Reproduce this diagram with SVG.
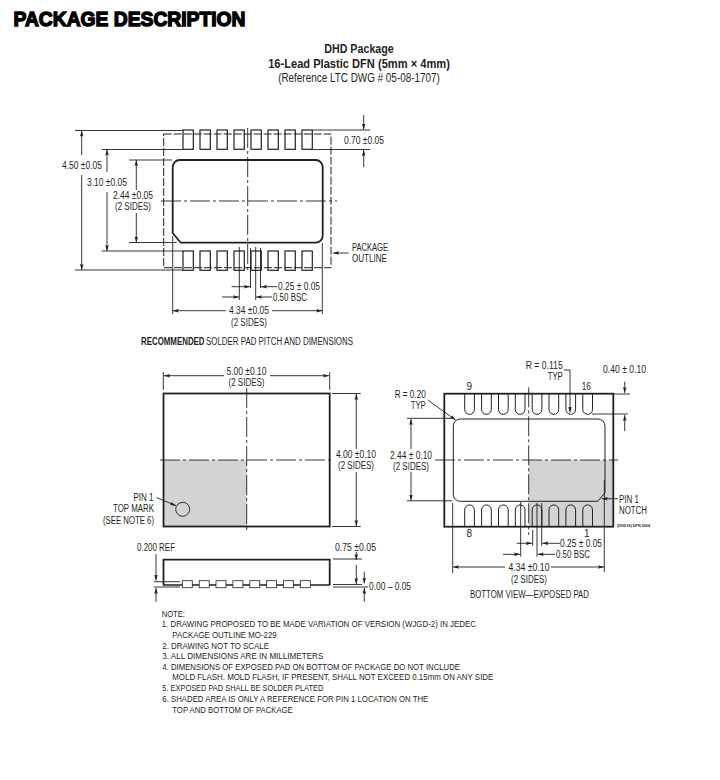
<svg xmlns="http://www.w3.org/2000/svg" xmlns:xlink="http://www.w3.org/1999/xlink" width="720" height="780" viewBox="0 0 720 780">
<style>
text{font-family:"Liberation Sans",Arial,sans-serif;fill:#231f20;font-size:10px}
.m{text-anchor:middle}.e{text-anchor:end}
.title{font-weight:700;font-size:21px;stroke:#000;stroke-width:1.4px;fill:#000}
.h{font-size:12.5px;font-weight:700}.h2{font-size:12.5px}
.n{font-size:9.4px}.t{font-size:3.8px;font-weight:700}
.b{font-weight:700}
.d{fill:none;stroke:#231f20;stroke-width:.9}
.a{fill:none;stroke:#231f20;stroke-width:.9;marker-end:url(#ah)}
.c{fill:none;stroke:#231f20;stroke-width:.9;stroke-dasharray:20 3 3 3}
.o{fill:none;stroke:#231f20;stroke-width:1;stroke-dasharray:8 2}
.p{fill:none;stroke:#231f20;stroke-width:1.2}
.u{fill:none;stroke:#231f20;stroke-width:1}
.k{fill:none;stroke:#231f20;stroke-width:1.8}
.s{fill:#d1d3d4}
</style>
<defs>
<marker id="ah" markerUnits="userSpaceOnUse" markerWidth="7" markerHeight="4" refX="6" refY="2" orient="auto"><path d="M0 .2L6 2L0 3.8L1 2Z" fill="#231f20"/></marker>
<rect id="lp" width="10.3" height="19.3" class="p"/>
<rect id="sp" width="10" height="7" fill="#fff" stroke="#231f20" stroke-width=".8"/>
<path id="ut" d="M0 0V15.8A4.85 4.85 0 0 0 9.7 15.8V0" class="u"/>
<path id="ub" d="M0 0V-16.9A4.85 4.85 0 0 1 9.7 -16.9V0" class="u"/>
</defs>
<rect width="720" height="780" fill="#fff"/>
<g id="header">
<text class="title" x="13.5" y="26.3" textLength="232" lengthAdjust="spacingAndGlyphs">PACKAGE DESCRIPTION</text>
<text class="h m" x="359" y="53" textLength="69.5" lengthAdjust="spacingAndGlyphs">DHD Package</text>
<text class="h m" x="359" y="67.6" textLength="181.7" lengthAdjust="spacingAndGlyphs">16-Lead Plastic DFN (5mm × 4mm)</text>
<text class="h2 m" x="359" y="82" textLength="161.7" lengthAdjust="spacingAndGlyphs">(Reference LTC DWG # 05-08-1707)</text>
</g>
<g id="solder-pad-view">
<rect class="o" x="163.7" y="134" width="167.3" height="133.7"/>
<path class="k" d="M179.7 160H315.7A7 7 0 0 1 322.7 167V235.7A7 7 0 0 1 315.7 242.7H180.7L172.7 233V167A7 7 0 0 1 179.7 160Z"/>
<g fill="none">
<use xlink:href="#lp" x="183" y="130"/><use xlink:href="#lp" x="200" y="130"/><use xlink:href="#lp" x="217" y="130"/><use xlink:href="#lp" x="234" y="130"/><use xlink:href="#lp" x="251" y="130"/><use xlink:href="#lp" x="268" y="130"/><use xlink:href="#lp" x="285" y="130"/><use xlink:href="#lp" x="302" y="130"/>
<use xlink:href="#lp" x="183" y="251"/><use xlink:href="#lp" x="200" y="251"/><use xlink:href="#lp" x="217" y="251"/><use xlink:href="#lp" x="234" y="251"/><use xlink:href="#lp" x="251" y="251"/><use xlink:href="#lp" x="268" y="251"/><use xlink:href="#lp" x="285" y="251"/><use xlink:href="#lp" x="302" y="251"/>
</g>
<path class="c" d="M161 201H337M247.7 128V272"/>
</g>
<g id="solder-pad-connectors">
<path class="d" d="M75 130.5H183M75 270H183M101.7 149.5H183M101.7 251H183M129 160H172M129 242.5H176.7M313 130H370M313 149.5H370M172.7 236V314M322.3 243V314M250.5 248V288M260.5 248V288M239.3 247V300M255.7 247V300"/>
<path class="a" d="M81.7 155V130.5"/><path class="a" d="M81.7 175V270"/>
<path class="a" d="M107 172V149.5"/><path class="a" d="M107 192V251"/>
<path class="a" d="M136.3 190V160"/><path class="a" d="M136.3 213V242.5"/>
<path class="a" d="M363.7 115V129.5"/><path class="a" d="M363.7 167V150"/>
<path class="a" d="M348.7 253H333"/>
<path class="a" d="M226 310.7H172.7"/><path class="a" d="M272 310.7H322.3"/>
<path class="a" d="M231.7 286.7H250"/><path class="a" d="M277 286.7H261"/>
<path class="a" d="M222 297H239"/><path class="a" d="M272 297H256"/>
</g>
<g id="solder-pad-labels">
<text x="62" y="169" textLength="40" lengthAdjust="spacingAndGlyphs">4.50 ±0.05</text>
<text x="87" y="186" textLength="40" lengthAdjust="spacingAndGlyphs">3.10 ±0.05</text>
<text class="m" x="133" y="199" textLength="40" lengthAdjust="spacingAndGlyphs">2.44 ±0.05</text>
<text class="m" x="133" y="210" textLength="36" lengthAdjust="spacingAndGlyphs">(2 SIDES)</text>
<text x="344" y="144" textLength="40" lengthAdjust="spacingAndGlyphs">0.70 ±0.05</text>
<text x="352" y="251" textLength="36" lengthAdjust="spacingAndGlyphs">PACKAGE</text>
<text x="352" y="262" textLength="35" lengthAdjust="spacingAndGlyphs">OUTLINE</text>
<text x="278" y="290" textLength="42" lengthAdjust="spacingAndGlyphs">0.25 ± 0.05</text>
<text x="273" y="301" textLength="34" lengthAdjust="spacingAndGlyphs">0.50 BSC</text>
<text class="m" x="249" y="314" textLength="40" lengthAdjust="spacingAndGlyphs">4.34 ±0.05</text>
<text class="m" x="249" y="325.5" textLength="36" lengthAdjust="spacingAndGlyphs">(2 SIDES)</text>
<text class="b" transform="translate(141 344.6) scale(.79 1)">RECOMMENDED</text>
<text x="206" y="344.6" textLength="147" lengthAdjust="spacingAndGlyphs">SOLDER PAD PITCH AND DIMENSIONS</text>
</g>
<g id="top-view">
<rect class="s" x="163.5" y="460" width="83.5" height="66.5"/>
<rect class="k" x="163.5" y="393.5" width="166.2" height="133"/>
<path class="c" d="M160 460H333M246.7 388V532"/>
<circle cx="182.7" cy="509.3" r="7" fill="none" stroke="#231f20" stroke-width=".9"/>
<path class="d" d="M163.3 372V390M329.7 372V390M332 393.5H360.7M332 526.5H360.7"/>
<path class="a" d="M224 375.7H164"/><path class="a" d="M270 375.7H329"/>
<path class="a" d="M356.3 449V394"/><path class="a" d="M356.3 472V526"/>
<path class="a" d="M156.7 497.7L176 505.7"/>
<text class="m" x="246.5" y="374.5" textLength="40" lengthAdjust="spacingAndGlyphs">5.00 ±0.10</text>
<text class="m" x="246.5" y="385.5" textLength="36" lengthAdjust="spacingAndGlyphs">(2 SIDES)</text>
<text class="m" x="356" y="458" textLength="40" lengthAdjust="spacingAndGlyphs">4.00 ±0.10</text>
<text class="m" x="356" y="469" textLength="36" lengthAdjust="spacingAndGlyphs">(2 SIDES)</text>
<text class="e" x="153.5" y="501" textLength="20" lengthAdjust="spacingAndGlyphs">PIN 1</text>
<text class="e" x="154" y="512" textLength="41" lengthAdjust="spacingAndGlyphs">TOP MARK</text>
<text class="e" x="154" y="523.5" textLength="51" lengthAdjust="spacingAndGlyphs">(SEE NOTE 6)</text>
</g>
<g id="side-view">
<path class="k" d="M163.5 585V559.7H329.7V585"/>
<path d="M163 585H330" fill="none" stroke="#231f20" stroke-width="1.6"/>
<g>
<use xlink:href="#sp" x="182.3" y="580.7"/><use xlink:href="#sp" x="199.2" y="580.7"/><use xlink:href="#sp" x="216" y="580.7"/><use xlink:href="#sp" x="232.9" y="580.7"/><use xlink:href="#sp" x="249.8" y="580.7"/><use xlink:href="#sp" x="266.6" y="580.7"/><use xlink:href="#sp" x="283.5" y="580.7"/><use xlink:href="#sp" x="300.3" y="580.7"/>
</g>
<path class="d" d="M154 581.7H180M154 587H180M333 559H362M333 584.5H362M333 587H368"/>
<path class="a" d="M156 554V580.5"/><path class="a" d="M156 601.7V588"/>
<path class="a" d="M356.3 552V560"/><path class="a" d="M356.3 565V584"/>
<path class="a" d="M364.3 571.7V583.5"/><path class="a" d="M364.3 601.7V588"/>
<text x="137" y="550.5" textLength="38" lengthAdjust="spacingAndGlyphs">0.200 REF</text>
<text x="335" y="550.5" textLength="41" lengthAdjust="spacingAndGlyphs">0.75 ±0.05</text>
<text x="369" y="590" textLength="42" lengthAdjust="spacingAndGlyphs">0.00 – 0.05</text>
</g>
<g id="bottom-view">
<rect class="s" x="528.7" y="460" width="84.6" height="66.7"/>
<rect class="k" x="444.3" y="393.7" width="169" height="133"/>
<path d="M460.3 419H598A7 7 0 0 1 605 426V492.7L597.7 501.3H460.3A7 7 0 0 1 453.3 494.3V426A7 7 0 0 1 460.3 419Z" fill="none" stroke="#231f20" stroke-width="1"/>
<path class="c" d="M435 460H618M528.7 387.3V535"/>
<g>
<use xlink:href="#ut" x="464.7" y="393.7"/><use xlink:href="#ut" x="481.6" y="393.7"/><use xlink:href="#ut" x="498.5" y="393.7"/><use xlink:href="#ut" x="515.3" y="393.7"/><use xlink:href="#ut" x="532.2" y="393.7"/><use xlink:href="#ut" x="549" y="393.7"/><use xlink:href="#ut" x="565.9" y="393.7"/><use xlink:href="#ut" x="582.8" y="393.7"/>
<use xlink:href="#ub" x="464.7" y="526.7"/><use xlink:href="#ub" x="481.6" y="526.7"/><use xlink:href="#ub" x="498.5" y="526.7"/><use xlink:href="#ub" x="515.3" y="526.7"/><use xlink:href="#ub" x="532.2" y="526.7"/><use xlink:href="#ub" x="549" y="526.7"/><use xlink:href="#ub" x="565.9" y="526.7"/><use xlink:href="#ub" x="582.8" y="526.7"/>
</g>
<path class="d" d="M613 394H630M592 414H627.7M407 418.3H452M407 500.8H452M452.7 503V573M604.3 480V572M532.7 530V545.7M541.7 503V545.7M520.7 502V556.7M537 503V556.7M564 370H570"/>
<path class="a" d="M570 370V412.5"/>
<path class="a" d="M624.7 381.7V393"/><path class="a" d="M624.7 431V415"/>
<path class="a" d="M411 449V419"/><path class="a" d="M411 472V500.5"/>
<path class="a" d="M427.7 400L455.7 420"/>
<path class="a" d="M618 498.7H601.7"/>
<path class="a" d="M505 567H453"/><path class="a" d="M551 567H604"/>
<path class="a" d="M516.7 543.3H532"/><path class="a" d="M560 543.3H542.3"/>
<path class="a" d="M503 554.3H520"/><path class="a" d="M555 554.3H537.7"/>
<text class="m" x="469.3" y="390">9</text>
<text class="m" x="586.3" y="390" textLength="9" lengthAdjust="spacingAndGlyphs">16</text>
<text class="m" x="469.3" y="537">8</text>
<text class="m" x="586.7" y="537">1</text>
<text class="e" x="425.7" y="398" textLength="31" lengthAdjust="spacingAndGlyphs">R = 0.20</text>
<text class="e" x="425.7" y="409" textLength="15" lengthAdjust="spacingAndGlyphs">TYP</text>
<text class="e" x="562.7" y="369" textLength="37" lengthAdjust="spacingAndGlyphs">R = 0.115</text>
<text class="e" x="562.7" y="380" textLength="15" lengthAdjust="spacingAndGlyphs">TYP</text>
<text x="603" y="373" textLength="43" lengthAdjust="spacingAndGlyphs">0.40 ± 0.10</text>
<text class="m" x="411" y="458.5" textLength="42" lengthAdjust="spacingAndGlyphs">2.44 ± 0.10</text>
<text class="m" x="411" y="469.5" textLength="36" lengthAdjust="spacingAndGlyphs">(2 SIDES)</text>
<text x="619" y="502.5" textLength="20" lengthAdjust="spacingAndGlyphs">PIN 1</text>
<text x="619" y="513.5" textLength="28" lengthAdjust="spacingAndGlyphs">NOTCH</text>
<text class="t" x="617" y="526.5" textLength="33" lengthAdjust="spacingAndGlyphs">(DHD16) DFN 0504</text>
<text x="560" y="546.8" textLength="42" lengthAdjust="spacingAndGlyphs">0.25 ± 0.05</text>
<text x="556" y="557.8" textLength="34" lengthAdjust="spacingAndGlyphs">0.50 BSC</text>
<text class="m" x="529" y="571" textLength="41" lengthAdjust="spacingAndGlyphs">4.34 ±0.10</text>
<text class="m" x="529" y="582.5" textLength="36" lengthAdjust="spacingAndGlyphs">(2 SIDES)</text>
<text class="m" x="529.5" y="597.5" textLength="119" lengthAdjust="spacingAndGlyphs">BOTTOM VIEW—EXPOSED PAD</text>
</g>
<g id="notes">
<text class="n" x="161.7" y="616.5" textLength="23.3" lengthAdjust="spacingAndGlyphs">NOTE:</text>
<text class="n" x="161.7" y="627.2" textLength="314.3" lengthAdjust="spacingAndGlyphs">1. DRAWING PROPOSED TO BE MADE VARIATION OF VERSION (WJGD-2) IN JEDEC</text>
<text class="n" x="172.3" y="638" textLength="104.4" lengthAdjust="spacingAndGlyphs">PACKAGE OUTLINE MO-229</text>
<text class="n" x="162.3" y="648.7" textLength="106.7" lengthAdjust="spacingAndGlyphs">2. DRAWING NOT TO SCALE</text>
<text class="n" x="162.3" y="659" textLength="161" lengthAdjust="spacingAndGlyphs">3. ALL DIMENSIONS ARE IN MILLIMETERS</text>
<text class="n" x="162.3" y="669.6" textLength="297.7" lengthAdjust="spacingAndGlyphs">4. DIMENSIONS OF EXPOSED PAD ON BOTTOM OF PACKAGE DO NOT INCLUDE</text>
<text class="n" x="172.3" y="680.3" textLength="321" lengthAdjust="spacingAndGlyphs">MOLD FLASH. MOLD FLASH, IF PRESENT, SHALL NOT EXCEED 0.15mm ON ANY SIDE</text>
<text class="n" x="162.3" y="691" textLength="161" lengthAdjust="spacingAndGlyphs">5. EXPOSED PAD SHALL BE SOLDER PLATED</text>
<text class="n" x="162.3" y="702.2" textLength="266" lengthAdjust="spacingAndGlyphs">6. SHADED AREA IS ONLY A REFERENCE FOR PIN 1 LOCATION ON THE</text>
<text class="n" x="172.3" y="713" textLength="120.4" lengthAdjust="spacingAndGlyphs">TOP AND BOTTOM OF PACKAGE</text>
</g>
</svg>
